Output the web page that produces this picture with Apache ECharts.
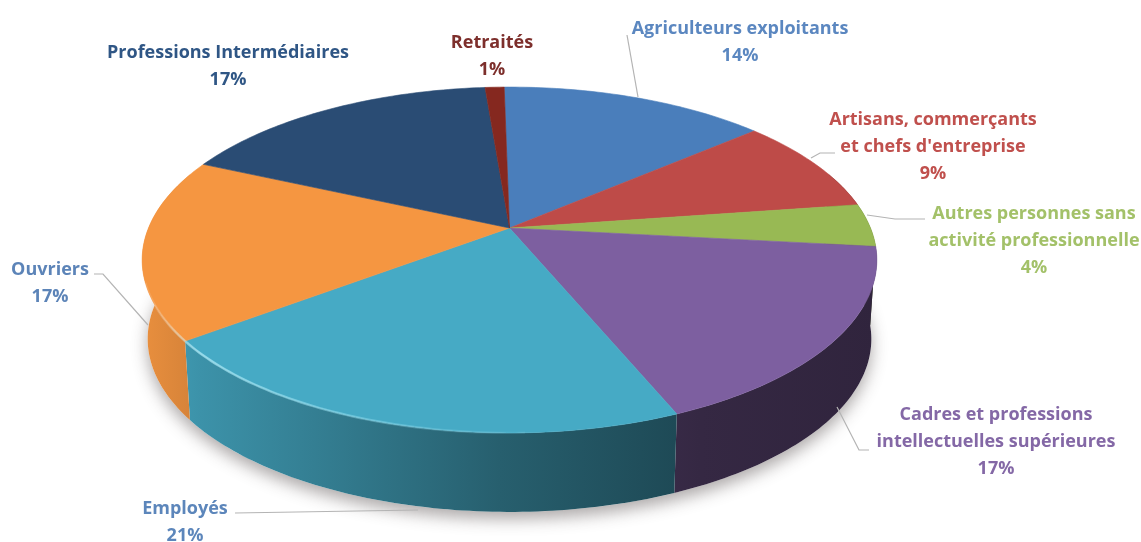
<!DOCTYPE html>
<html lang="fr">
<head>
<meta charset="utf-8">
<title>Répartition par catégorie socioprofessionnelle</title>
<style>html,body{margin:0;padding:0;background:#fff}#chart{width:1141px;height:542px}</style>
<script src="https://cdn.jsdelivr.net/npm/echarts@6/dist/echarts.min.js"></script>
</head>
<body>
<div id="chart"></div>
<script>
// Parts par catégorie socioprofessionnelle, dans le sens horaire depuis midi
const categories = [
  'Agriculteurs exploitants',
  'Artisans, commerçants\net chefs d\'entreprise',
  'Autres personnes sans\nactivité professionnelle',
  'Cadres et professions\nintellectuelles supérieures',
  'Employés',
  'Ouvriers',
  'Professions Intermédiaires',
  'Retraités'
];
const shares = [14, 9, 4, 17, 21, 17, 17, 1];

const sliceColors = ['#4a7ebb', '#be4b48', '#98b954', '#7d5fa0', '#46aac5', '#f59641', '#2a4c74', '#85281f'];
const labelColors = ['#5b87c0', '#c0504d', '#a3c169', '#8468a6', '#5c86bb', '#5c84b8', '#2f5685', '#7d2f2c'];

// Ancres des étiquettes et tracés des lignes de rappel
const labelAnchors = [[740, 42], [933, 147], [1034, 241], [996, 442], [185, 522], [50, 283], [228, 66], [492, 56]];
const leaderLines = [
  [[627, 35], [638, 97]],
  [[835, 153], [820, 153], [811, 158]],
  [[925, 219], [895, 219], [867, 215]],
  [[869, 450], [859, 450], [837, 407]],
  [[235, 513], [418, 510]],
  [[94, 274], [103, 274], [148, 325]],
  [],
  []
];

// Projection en perspective du disque : le centre remonte vers le fond
const disc = { cx: 509.5, cy: 228, halfWidth: 361, halfDepth: 167, perspective: 0.185, wall: 79, footScale: 0.985 };
const startAngle = -1;
const total = shares.reduce((a, b) => a + b, 0);
const shareToAngle = v => echarts.number.linearMap(v, [0, total], [0, 360]);

function project(deg, onFoot) {
  const t = deg * Math.PI / 180;
  const den = 1 + disc.perspective * Math.cos(t);
  const sx = disc.halfWidth * Math.sin(t) / den * (onFoot ? disc.footScale : 1);
  const sy = -disc.halfDepth * Math.cos(t) / den + (onFoot ? disc.wall : 0);
  return [disc.cx + sx, disc.cy + sy];
}

function arc(from, to, onFoot) {
  const pts = [];
  const steps = Math.max(2, Math.ceil(Math.abs(to - from)));
  for (let i = 0; i <= steps; i++) pts.push(project(from + (to - from) * i / steps, onFoot));
  return pts;
}

function sliceRange(idx) {
  let before = 0;
  for (let i = 0; i < idx; i++) before += shares[i];
  return [startAngle + shareToAngle(before), startAngle + shareToAngle(before + shares[idx])];
}

// Éclairage latéral de la tranche du disque, de gauche à droite
const wallLight = [[142, 0.95], [200, 0.86], [500, 0.56], [700, 0.42], [877, 0.38]];
function wallFill(hex) {
  const rgb = [1, 3, 5].map(i => parseInt(hex.substr(i, 2), 16));
  const x0 = wallLight[0][0], x1 = wallLight[wallLight.length - 1][0];
  return {
    type: 'linear', global: true, x: x0, y: 0, x2: x1, y2: 0,
    colorStops: wallLight.map(([x, m]) => ({
      offset: (x - x0) / (x1 - x0),
      color: 'rgb(' + rgb.map(c => Math.round(c * m)).join(',') + ')'
    }))
  };
}

const rimFill = {
  type: 'linear', global: true, x: 150, y: 0, x2: 570, y2: 0,
  colorStops: [
    { offset: 0, color: 'rgba(255,255,255,0.12)' },
    { offset: 0.12, color: 'rgba(190,245,255,0.62)' },
    { offset: 0.55, color: 'rgba(170,240,255,0.32)' },
    { offset: 1, color: 'rgba(170,240,255,0)' }
  ]
};

const chart = echarts.init(document.getElementById('chart'), null, { renderer: 'canvas' });
chart.setOption({
  backgroundColor: '#ffffff',
  animation: false,
  series: [
    {
      // Ombre portée sous le disque
      type: 'custom', coordinateSystem: 'none', z: 1, silent: true,
      data: [total],
      renderItem: () => ({
        type: 'polygon',
        shape: { points: arc(0, 360, true) },
        style: { fill: '#ffffff', shadowBlur: 16, shadowColor: 'rgba(60,50,50,0.42)', shadowOffsetY: 7 }
      })
    },
    {
      // Tranche visible de chaque part
      type: 'custom', coordinateSystem: 'none', z: 2, silent: true,
      data: shares,
      renderItem: params => {
        const [a0, a1] = sliceRange(params.dataIndex);
        const from = Math.max(a0, 70), to = Math.min(a1, 290);
        if (to <= from) return { type: 'group', children: [] };
        return {
          type: 'polygon',
          shape: { points: arc(from, to, false).concat(arc(to, from, true)) },
          style: { fill: wallFill(sliceColors[params.dataIndex]) }
        };
      }
    },
    {
      // Dessus du disque
      type: 'custom', coordinateSystem: 'none', z: 3, silent: true,
      data: shares,
      renderItem: params => {
        const [a0, a1] = sliceRange(params.dataIndex);
        return {
          type: 'polygon',
          shape: { points: [[disc.cx, disc.cy]].concat(arc(a0, a1, false)) },
          style: { fill: sliceColors[params.dataIndex], stroke: sliceColors[params.dataIndex], lineWidth: 0.6 }
        };
      }
    },
    {
      // Reflet sur l'arête avant gauche
      type: 'custom', coordinateSystem: 'none', z: 4, silent: true,
      data: [total],
      renderItem: () => ({
        type: 'polyline',
        shape: { points: arc(178, 252, false) },
        style: { fill: null, stroke: rimFill, lineWidth: 2.4 }
      })
    },
    {
      // Lignes de rappel et étiquettes
      type: 'custom', coordinateSystem: 'none', z: 5, silent: true,
      data: shares,
      renderItem: (params, api) => {
        const i = params.dataIndex;
        const children = [];
        if (leaderLines[i].length) {
          children.push({
            type: 'polyline',
            shape: { points: leaderLines[i] },
            style: { fill: null, stroke: '#b4b4b4', lineWidth: 1.2 }
          });
        }
        children.push({
          type: 'text',
          style: {
            text: categories[i] + '\n' + api.value(0) + '%',
            x: labelAnchors[i][0], y: labelAnchors[i][1],
            align: 'center', verticalAlign: 'middle',
            font: 'bold 18px "Open Sans", sans-serif', lineHeight: 27,
            fill: labelColors[i]
          }
        });
        return { type: 'group', children };
      }
    }
  ]
});
</script>
</body>
</html>
